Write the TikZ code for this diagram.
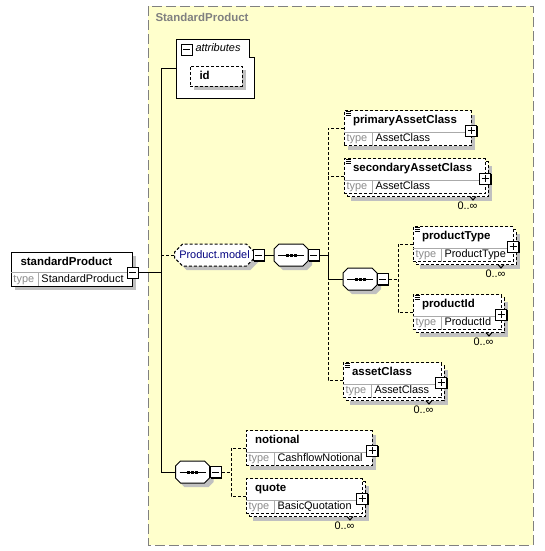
\documentclass[tikz,border=0pt]{standalone}
\usepackage{fontspec}
\setmainfont{Liberation Sans}
\usetikzlibrary{fit,shapes.misc,shadows}
\definecolor{groupfill}{RGB}{255,255,204}
\definecolor{groupline}{RGB}{128,128,128}
\definecolor{shgray}{RGB}{192,192,192}
\definecolor{rulegray}{RGB}{170,170,170}
\definecolor{typegray}{RGB}{140,140,140}
\definecolor{modelblue}{RGB}{0,0,128}

\tikzset{
  opt/.style={dash pattern=on 2.25pt off 1.5pt},
  ebox/.style={draw, fill=white, inner sep=0, outer sep=0},
  shadebox/.style={general shadow={fill=shgray, shadow xshift=3pt, shadow yshift=-3pt}},
  ename/.style={font=\fontsize{8.6}{10}\selectfont\bfseries, anchor=west, inner sep=0, text height=6.3pt, text depth=1.8pt},
  tlabel/.style={font=\fontsize{8.2}{10}\selectfont, text=typegray, anchor=west, inner sep=0, text height=6pt, text depth=1.7pt},
  tvalue/.style={font=\fontsize{8.2}{10}\selectfont, anchor=west, inner sep=0, text height=6pt, text depth=1.7pt},
  pmbox/.style={draw, fill=white, minimum size=8.25pt, inner sep=0,
    general shadow={fill=black, shadow xshift=0.75pt, shadow yshift=-0.75pt}},
  minusbox/.style={pmbox, postaction={path picture={
    \draw[black] (path picture bounding box.center) ++(-3.5,0) -- ++(7,0);}}},
  plusbox/.style={pmbox, postaction={path picture={
    \draw[black] (path picture bounding box.center) ++(-3.5,0) -- ++(7,0);
    \draw[black] (path picture bounding box.center) ++(0,-3.5) -- ++(0,7);}}},
  modelbox/.style={chamfered rectangle, chamfered rectangle xsep=3pt, chamfered rectangle ysep=3pt,
    draw, opt, fill=white, shadebox, minimum width=57.75pt, minimum height=16.5pt, inner sep=0.5pt,
    font=\fontsize{8.2}{10}\selectfont, text=modelblue},
  seqanchor/.style={inner sep=0, minimum width=25.5pt, minimum height=16.5pt},
}

% sequence compositor: name, centre x, centre y
\newcommand{\seqnode}[3]{%
  \begin{scope}[shift={(#2,#3)}]
    \fill[shgray] (-8,-7) -- (16,-7) -- (21,-2) -- (21,10) -- (16,15) -- (-8,15) -- (-13,10) -- (-13,-2) -- cycle;
    \draw[fill=white] (-12,-11) -- (12,-11) -- (17,-6) -- (17,6) -- (12,11) -- (-12,11) -- (-17,6) -- (-17,-6) -- cycle;
    \node[seqanchor] (#1) at (0,0) {};
    \draw (-13,0) -- (13,0);
    \foreach \dx in {-4,0,4}
      \fill (\dx-1.5,-1.5) rectangle ++(3,3);
  \end{scope}
}

% element box: name, left, right, centre y, label, type, multi (1/0), list icon (1/0)
\newcommand{\elembox}[8]{%
  \ifnum#7=1
    \node[ebox, opt, shadebox, fit={(#2+3,#4-14.5) (#3+3,#4+20.5)}] (#1back) {};
    \draw (#3-15,#4+20.5) -- (#3-12,#4+24) -- (#3-9,#4+20.5);
    \node[tvalue, anchor=east] (#1occ) at (#3-7,#4+31) {0..∞};
    \node[ebox, opt, fit={(#2,#4-17.5) (#3,#4+17.5)}] (#1) {};
  \else
    \node[ebox, opt, shadebox, fit={(#2,#4-17.5) (#3,#4+17.5)}] (#1) {};
  \fi
  \draw[rulegray] (#2,#4+4) -- (#3,#4+4) (#2+28,#4+4) -- (#2+28,#4+17.5);
  \node[ename] (#1name) at (#2+8.5,#4-7.5) {#5};
  \node[tlabel] (#1tl) at (#2+2,#4+11) {type};
  \node[tvalue] (#1tv) at (#2+31,#4+11) {#6};
  \node[plusbox] (#1plus) at (#3,#4+2.5) {};
  \ifnum#8=1
    \draw[line width=0.6pt] (#2+1.5,#4-16.5) -- ++(5,0) (#2+1.5,#4-14.5) -- ++(5,0) (#2+1.5,#4-12.5) -- ++(5,0);
  \fi
}

\begin{document}
\begin{tikzpicture}[x=0.75pt, y=-0.75pt, line width=0.75pt]
  \useasboundingbox (0,0) rectangle (545,551);
  % complex type area
  \draw[groupline, fill=groupfill, dash pattern=on 7.5pt off 3pt] (148,6) rectangle (533,545);
  \node[ename, text=groupline] (grouptitle) at (155,18) {StandardProduct};

  % root element
  \node[ebox, shadebox, fit={(11,252) (132,286)}] (sp) {};
  \draw[rulegray] (11,272) -- (132,272) (38,272) -- (38,286);
  \node[ename] (spname) at (20,262) {standardProduct};
  \node[tlabel] (sptl) at (13,279.5) {type};
  \node[tvalue] (sptv) at (41,279.5) {StandardProduct};
  \node[minusbox] (spminus) at (132.5,272.5) {};

  % attributes
  \draw[fill=white] (176,39) -- (249,39) -- (249,57) -- (254,57) -- (254,98) -- (176,98) -- cycle;
  \coordinate (attrin) at (176,68);
  \node[minusbox] (attrminus) at (186.5,49.5) {};
  \node[tvalue, font=\fontsize{8.2}{10}\selectfont\itshape] (attrtitle) at (195,49) {attributes};
  \node[ebox, opt, shadebox, fit={(190,66) (242,86)}] (idbox) {};
  \node[ename] (idname) at (199,76) {id};

  % groups and sequences
  \node[modelbox] (pmodel) at (214.5,255) {Product.model};
  \node[minusbox] (pmminus) at (258.5,255) {};
  \seqnode{seqa}{291}{255}
  \node[minusbox] (seqaminus) at (313.5,255) {};
  \seqnode{seqc}{360}{279}
  \node[minusbox] (seqcminus) at (382.5,279) {};
  \seqnode{seqb}{192.5}{472}
  \node[minusbox] (seqbminus) at (215.5,472) {};

  % elements
  \elembox{pac}{344}{471}{128}{primaryAssetClass}{AssetClass}{0}{1}
  \elembox{sac}{344}{485}{176}{secondaryAssetClass}{AssetClass}{1}{1}
  \elembox{pt}{413}{513}{244}{productType}{ProductType}{1}{1}
  \elembox{pid}{413}{501}{312}{productId}{ProductId}{1}{1}
  \elembox{ac}{343}{441}{380}{assetClass}{AssetClass}{1}{1}
  \elembox{nt}{246}{372}{448}{notional}{CashflowNotional}{0}{0}
  \elembox{qt}{246}{362}{496}{quote}{BasicQuotation}{1}{0}

  % connectors
  \coordinate (trunk) at (161,68);
  \coordinate (fork) at (328,255);
  \coordinate (forkc) at (398,279);
  \coordinate (forkb) at (231,472);
  \draw (attrin) -- (trunk) |- (seqb.west);
  \draw (spminus.east) -- (spminus.east -| trunk);
  \draw[opt] (trunk |- pmodel.west) -- (pmodel.west);
  \draw (pmminus.east) -- (seqa.west);
  \draw (seqaminus.east) -- (fork) |- (seqc.west);
  \draw[opt] (pac.west) -| (fork |- ac.west) -- (ac.west);
  \draw[opt] (sac.west) -- (sac.west -| fork);
  \draw[opt] (seqcminus.east) -- (forkc);
  \draw[opt] (pt.west) -| (forkc |- pid.west) -- (pid.west);
  \draw[opt] (seqbminus.east) -- (forkb);
  \draw[opt] (nt.west) -| (forkb |- qt.west) -- (qt.west);
\end{tikzpicture}
\end{document}
